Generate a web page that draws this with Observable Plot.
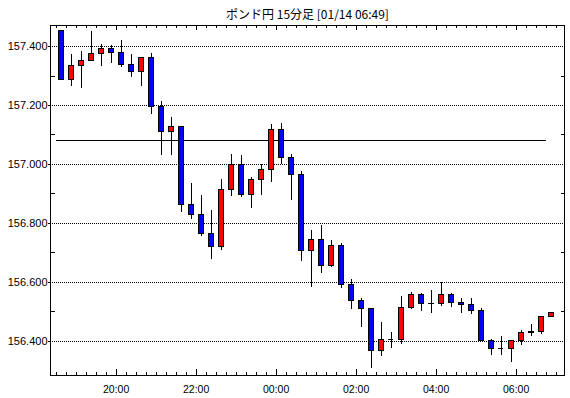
<!DOCTYPE html>
<html><head><meta charset="utf-8">
<script src="https://cdn.jsdelivr.net/npm/d3@7"></script>
<script src="https://cdn.jsdelivr.net/npm/@observablehq/plot@0.6"></script>
<style>body{margin:0;background:#fff;} svg line, svg rect, svg path{shape-rendering:crispEdges;}</style>
</head><body><div id="chart"></div>
<script>
const title = "ポンド円 15分足 [01/14 06:49]";
const times = ["18:30","18:45","19:00","19:15","19:30","19:45","20:00","20:15","20:30","20:45",
  "21:00","21:15","21:30","21:45","22:00","22:15","22:30","22:45","23:00","23:15",
  "23:30","23:45","00:00","00:15","00:30","00:45","01:00","01:15","01:30","01:45",
  "02:00","02:15","02:30","02:45","03:00","03:15","03:30","03:45","04:00","04:15",
  "04:30","04:45","05:00","05:15","05:30","05:45","06:00","06:15","06:30","06:45"];
const opens = [157.451,157.287,157.335,157.352,157.375,157.391,157.379,157.338,157.313,157.362,
  157.196,157.111,157.126,156.863,156.829,156.764,156.720,156.914,156.999,156.896,
  156.948,156.982,157.118,157.023,156.965,156.706,156.745,156.657,156.724,156.592,
  156.538,156.510,156.368,156.406,156.406,156.514,156.558,156.528,156.526,156.558,
  156.531,156.524,156.504,156.403,156.375,156.375,156.400,156.429,156.433,156.484];
const highs = [157.451,157.373,157.383,157.451,157.407,157.402,157.420,157.373,157.364,157.375,
  157.214,157.159,157.126,156.936,156.895,156.844,156.949,157.034,157.031,156.955,
  156.999,157.136,157.139,157.034,156.976,156.776,156.793,156.742,156.731,156.610,
  156.546,156.510,156.464,156.431,156.553,156.565,156.562,156.573,156.600,156.563,
  156.547,156.545,156.511,156.406,156.417,156.403,156.437,156.458,156.486,156.498];
const lows = [157.287,157.265,157.259,157.352,157.333,157.343,157.330,157.294,157.265,157.169,
  157.031,157.031,156.838,156.814,156.757,156.679,156.709,156.893,156.889,156.852,
  156.895,156.940,156.999,156.878,156.671,156.584,156.632,156.652,156.581,156.508,
  156.449,156.307,156.349,156.377,156.389,156.507,156.503,156.494,156.520,156.514,
  156.496,156.492,156.401,156.353,156.353,156.328,156.386,156.417,156.424,156.480];
const closes = [157.287,157.335,157.352,157.375,157.391,157.379,157.338,157.313,157.362,157.196,
  157.111,157.126,156.863,156.829,156.764,156.720,156.914,156.999,156.896,156.948,
  156.982,157.118,157.023,156.965,156.706,156.745,156.657,156.724,156.592,156.538,
  156.510,156.368,156.406,156.406,156.514,156.558,156.528,156.526,156.558,156.531,
  156.524,156.504,156.403,156.375,156.375,156.400,156.429,156.433,156.484,156.495];
const tickLabels = ["20:00","22:00","00:00","02:00","04:00","06:00"];
const yTicks = [156.4,156.6,156.8,157.0,157.2,157.4];
const yMinor = [156.5,156.7,156.9,157.1,157.3];
const refLevel = 157.08;
const refSpan = ["18:30","06:45"];
const xSpan = ["18:21:30","07:12:30"];
const ySpan = [156.2847,157.4712];

function toDate(s){ const p=s.split(":").map(Number); const h=p[0];
  return new Date(Date.UTC(2025,0,h>=12?13:14,h,p[1],p[2]||0)); }
const Q = 15*60*1000;
const candles = times.map((t,i)=>{ const t0=toDate(t);
  return {t0, t1:new Date(+t0+Q), mid:new Date(+t0+Q/2), open:opens[i], high:highs[i], low:lows[i], close:closes[i]}; });
const up = candles.filter(d=>d.close>d.open);
const down = candles.filter(d=>d.close<d.open);
const flat = candles.filter(d=>d.close===d.open);
const majorT = tickLabels.map(toDate);
const labelBy = new Map(majorT.map((d,i)=>[+d,tickLabels[i]]));
const minorT = d3.utcMinute.every(15).range(toDate("18:30"), new Date(+toDate("07:00")+60000));
const W=570,H=398,mL=50,mR=6,mT=25,mB=23, pW=W-mL-mR, pH=H-mT-mB;

const chart = Plot.plot({
  width:W, height:H, marginLeft:mL, marginRight:mR, marginTop:mT, marginBottom:mB,
  style:{fontFamily:"'Liberation Sans', sans-serif", fontSize:"11px", background:"#fff", color:"#000", overflow:"visible"},
  x:{type:"utc", domain:xSpan.map(toDate)},
  y:{domain:ySpan},
  marks:[
    Plot.ruleY(yTicks,{y:d=>d, stroke:"#000", strokeDasharray:"1,1"}),
    Plot.ruleY([refLevel],{y:d=>d, x1:()=>toDate(refSpan[0]), x2:()=>toDate(refSpan[1]), stroke:"#000"}),
    Plot.ruleX(candles,{x:"mid", y1:"low", y2:"high", stroke:"#000"}),
    Plot.rect(up,{x1:"t0",x2:"t1",y1:"open",y2:"close",fill:"#ff0000",stroke:"#000",insetLeft:2.5,insetRight:2.5}),
    Plot.rect(down,{x1:"t0",x2:"t1",y1:"open",y2:"close",fill:"#0000ff",stroke:"#000",insetLeft:2.5,insetRight:2.5}),
    Plot.ruleY(flat,{y:"close",x1:"t0",x2:"t1",stroke:"#000",insetLeft:2.5,insetRight:2.5}),
    Plot.ruleX(minorT,{x:d=>d, insetTop:pH-3, stroke:"#000"}),
    Plot.ruleX(majorT,{x:d=>d, insetTop:pH-6, stroke:"#000"}),
    Plot.ruleX(minorT,{x:d=>d, insetBottom:pH-3, stroke:"#000"}),
    Plot.ruleX(majorT,{x:d=>d, insetBottom:pH-5, stroke:"#000"}),
    Plot.ruleY(yMinor,{y:d=>d, insetRight:pW-5, stroke:"#000"}),
    Plot.ruleY(yMinor,{y:d=>d, insetLeft:pW-3, stroke:"#000"}),
    Plot.axisY(yTicks,{tickSize:2, tickPadding:1, tickFormat:d=>d.toFixed(3), label:null, fontSize:11}),
    Plot.axisX(majorT,{tickSize:0, tickPadding:10, tickFormat:d=>labelBy.get(+d), label:null, fontSize:10.5}),
    Plot.frame({stroke:"#000"}),
    Plot.text([title],{text:d=>d, frameAnchor:"top", lineAnchor:"middle", dy:-10.5, fontSize:12, fontFamily:"'Noto Sans CJK JP', sans-serif"})
  ]
});
document.getElementById("chart").appendChild(chart);
</script>
</body></html>
